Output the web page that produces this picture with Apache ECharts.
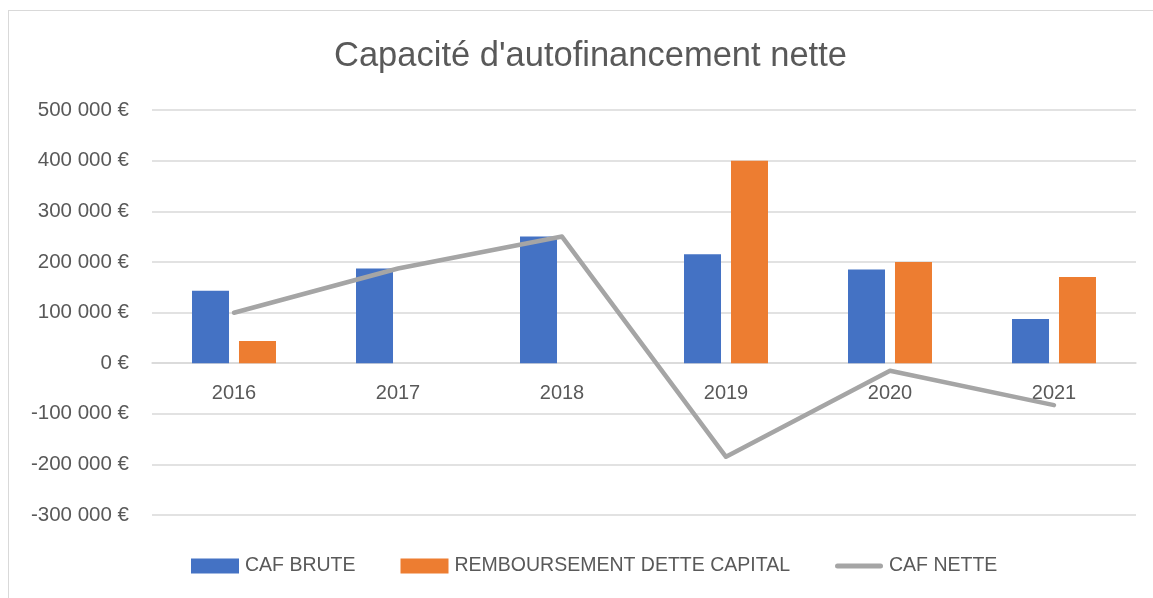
<!DOCTYPE html>
<html>
<head>
<meta charset="utf-8">
<title>Capacité d'autofinancement nette</title>
<script src="https://cdn.jsdelivr.net/npm/echarts@6/dist/echarts.min.js"></script>
<style>
    html, body { margin: 0; padding: 0; background: #fff; }
    #frame {
        position: absolute; left: 8px; top: 10px; right: 0; bottom: 0;
        border-left: 1.5px solid #D9D9D9; border-top: 1.5px solid #D9D9D9;
    }
    #main { position: absolute; left: 0; top: 0; width: 1153px; height: 598px; }
</style>
</head>
<body>
<div id="frame"></div>
<div id="main"></div>
<script>
// données
var annees = ['2016', '2017', '2018', '2019', '2020', '2021'];
var cafBrute = [143000, 187000, 250000, 215000, 185000, 87000];
var remboursement = [43500, 0, 0, 400000, 200000, 170000];
var cafNette = [99500, 187000, 250000, -185000, -15000, -83000];
var yTicks = [-300000, -200000, -100000, 0, 100000, 200000, 300000, 400000, 500000];

var police = '"Liberation Sans", "DejaVu Sans", sans-serif';
var gris = '#595959';

var gridTop = 110, gridBottom = 83, hauteur = 598;

function formatEuro(v) {
    var s = Math.abs(v).toString().replace(/\B(?=(\d{3})+(?!\d))/g, ' ');
    return (v < 0 ? '-' : '') + s + ' €';
}

// l'axe des catégories est posé sur la ligne du zéro
var pas = (hauteur - gridTop - gridBottom) / (yTicks.length - 1);
var decalageZero = -(yTicks.indexOf(0)) * pas;

var myChart = echarts.init(document.getElementById('main'), null, {renderer: 'canvas'});

myChart.setOption({
    backgroundColor: 'transparent',
    animation: false,
    title: {
        text: "Capacité d'autofinancement nette",
        left: 329,
        top: 34,
        textStyle: {fontFamily: police, fontSize: 34.5, fontWeight: 'normal', color: gris}
    },
    legend: {
        bottom: 17,
        left: 186,
        itemGap: 45,
        itemWidth: 48,
        itemHeight: 15,
        textStyle: {fontFamily: police, fontSize: 19.5, color: gris, padding: [0, 0, 0, 1]},
        data: [
            {name: 'CAF BRUTE', icon: 'rect'},
            {name: 'REMBOURSEMENT DETTE CAPITAL', icon: 'rect'},
            {name: 'CAF NETTE', icon: 'path://M2.5,0 L45.5,0 A2.5,2.5 0 0 1 45.5,5 L2.5,5 A2.5,2.5 0 0 1 2.5,0 Z'}
        ]
    },
    grid: {left: 152, right: 17, top: gridTop, bottom: gridBottom},
    xAxis: {
        type: 'category',
        data: annees,
        offset: decalageZero,
        axisLine: {onZero: false, lineStyle: {color: '#D9D9D9', width: 1.5}},
        axisTick: {show: false},
        axisLabel: {fontFamily: police, fontSize: 20, color: gris, margin: 20}
    },
    yAxis: {
        type: 'value',
        min: yTicks[0],
        max: yTicks[yTicks.length - 1],
        interval: 100000,
        axisLine: {show: false},
        axisTick: {show: false},
        splitLine: {lineStyle: {color: '#D9D9D9', width: 1.5}},
        axisLabel: {fontFamily: police, fontSize: 20.5, color: gris, margin: 23, formatter: formatEuro}
    },
    series: [{
        name: 'CAF BRUTE',
        type: 'bar',
        data: cafBrute,
        barWidth: 37,
        barGap: '27%',
        itemStyle: {color: '#4472C4'}
    }, {
        name: 'REMBOURSEMENT DETTE CAPITAL',
        type: 'bar',
        data: remboursement,
        barWidth: 37,
        itemStyle: {color: '#ED7D31'}
    }, {
        name: 'CAF NETTE',
        type: 'line',
        data: cafNette,
        symbol: 'none',
        lineStyle: {color: '#A5A5A5', width: 4.5, cap: 'round', join: 'round'},
        itemStyle: {color: '#A5A5A5'}
    }]
});
</script>
</body>
</html>
